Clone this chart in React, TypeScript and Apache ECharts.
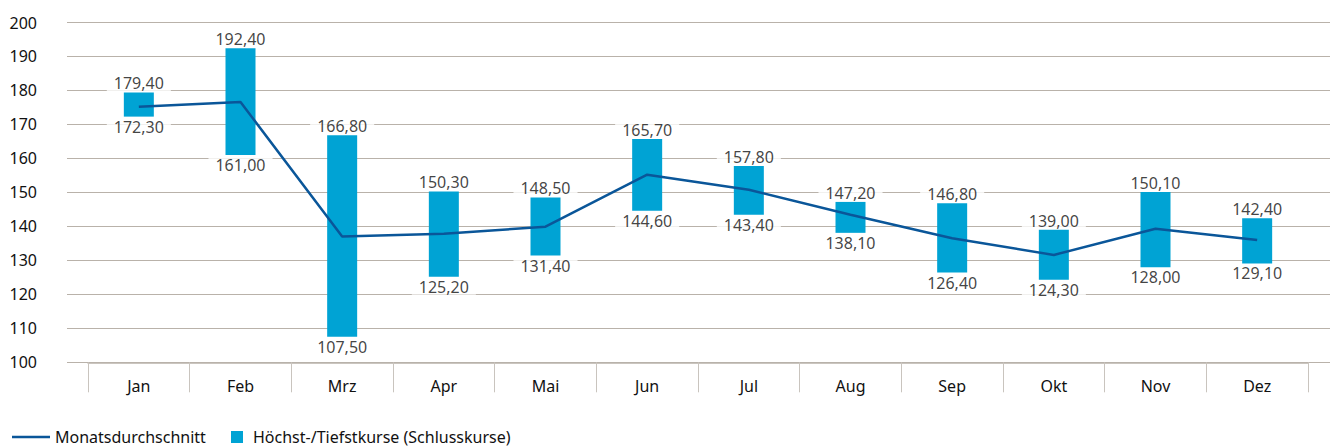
import React, { useEffect, useRef } from 'react';
import * as echarts from 'echarts';

const months = ['Jan', 'Feb', 'Mrz', 'Apr', 'Mai', 'Jun', 'Jul', 'Aug', 'Sep', 'Okt', 'Nov', 'Dez'];
const highs = [179.4, 192.4, 166.8, 150.3, 148.5, 165.7, 157.8, 147.2, 146.8, 139.0, 150.1, 142.4];
const lows = [172.3, 161.0, 107.5, 125.2, 131.4, 144.6, 143.4, 138.1, 126.4, 124.3, 128.0, 129.1];
const averages = [175.2, 176.6, 137.0, 137.8, 139.9, 155.2, 150.8, 143.4, 136.5, 131.6, 139.3, 136.0];
const yMin = 100;
const yMax = 200;
const yStep = 10;

const lineName = 'Monatsdurchschnitt';
const barName = 'Höchst-/Tiefstkurse (Schlusskurse)';

const fmt = (v: number) => v.toFixed(2).replace('.', ',');

const FONT = 'Noto Sans';
const TEXT = '#111111';
const GRIDC = '#b9b2aa';
const BAR = '#00a3d4';
const LINE = '#0a5699';

export default function App() {
  const ref = useRef<HTMLDivElement>(null);
  useEffect(() => {
    const chart = echarts.init(ref.current!, null, { renderer: 'svg' });
    const labelStyle = {
      show: true,
      color: TEXT,
      fontFamily: FONT,
      fontSize: 16,
      backgroundColor: '#ffffff',
      padding: [0, 7, 0, 7],
      formatter: (p: any) => fmt(p.value),
    };
    chart.setOption({
      animation: false,
      textStyle: { fontFamily: FONT, color: TEXT },
      grid: [
        { left: 88, right: 28, top: 22.5, bottom: 84.7 },
        { left: 67, right: 6, top: 22.5, bottom: 84.7 },
      ],
      xAxis: [
        {
          type: 'category',
          gridIndex: 0,
          data: months,
          axisLine: { show: true, lineStyle: { color: GRIDC, width: 1.5 } },
          axisTick: { show: true, length: 30, lineStyle: { color: '#c9c4be' } },
          axisLabel: { margin: 16, fontSize: 16, color: TEXT, fontFamily: FONT },
        },
        { type: 'value', gridIndex: 1, show: false, min: 0, max: 1 },
      ],
      yAxis: [
        { type: 'value', gridIndex: 0, min: yMin, max: yMax, interval: yStep, show: false },
        {
          type: 'value',
          gridIndex: 1,
          min: yMin,
          max: yMax,
          interval: yStep,
          axisLine: { show: false },
          axisTick: { show: false },
          splitLine: { show: true, lineStyle: { color: GRIDC, width: 1 } },
          axisLabel: { margin: 30, fontSize: 16, color: TEXT, fontFamily: FONT },
        },
      ],
      legend: [
        {
          left: 7,
          top: 424,
          itemWidth: 38,
          itemHeight: 2.5,
          data: [{ name: lineName, icon: 'rect' }],
          textStyle: { fontSize: 16, color: TEXT, fontFamily: FONT, padding: [0, 0, 0, 0] },
        },
        {
          left: 226,
          top: 424,
          itemWidth: 12,
          itemHeight: 12,
          data: [{ name: barName, icon: 'rect' }],
          textStyle: { fontSize: 16, color: TEXT, fontFamily: FONT, padding: [0, 0, 0, 5] },
        },
      ],
      series: [
        {
          name: 'base',
          type: 'bar',
          stack: 'range',
          xAxisIndex: 0,
          yAxisIndex: 0,
          barWidth: 30,
          silent: true,
          itemStyle: { color: 'transparent' },
          data: lows,
        },
        {
          name: barName,
          type: 'bar',
          stack: 'range',
          xAxisIndex: 0,
          yAxisIndex: 0,
          barWidth: 30,
          itemStyle: { color: BAR },
          data: highs.map((h, i) => +(h - lows[i]).toFixed(2)),
        },
        {
          name: lineName,
          type: 'line',
          xAxisIndex: 0,
          yAxisIndex: 0,
          symbol: 'none',
          z: 4,
          lineStyle: { color: LINE, width: 2.5 },
          itemStyle: { color: LINE },
          data: averages,
        },
        {
          name: 'highLabels',
          type: 'scatter',
          xAxisIndex: 0,
          yAxisIndex: 0,
          symbolSize: 0,
          z: 5,
          label: { ...labelStyle, position: 'top', distance: 1 },
          data: highs,
        },
        {
          name: 'lowLabels',
          type: 'scatter',
          xAxisIndex: 0,
          yAxisIndex: 0,
          symbolSize: 0,
          z: 5,
          label: { ...labelStyle, position: 'bottom', distance: 2 },
          data: lows,
        },
      ],
    });
    return () => chart.dispose();
  }, []);
  return (
    <div
      ref={ref}
      style={{ position: 'absolute', left: 0, top: 0, width: 1336, height: 447, background: '#fff' }}
    />
  );
}
